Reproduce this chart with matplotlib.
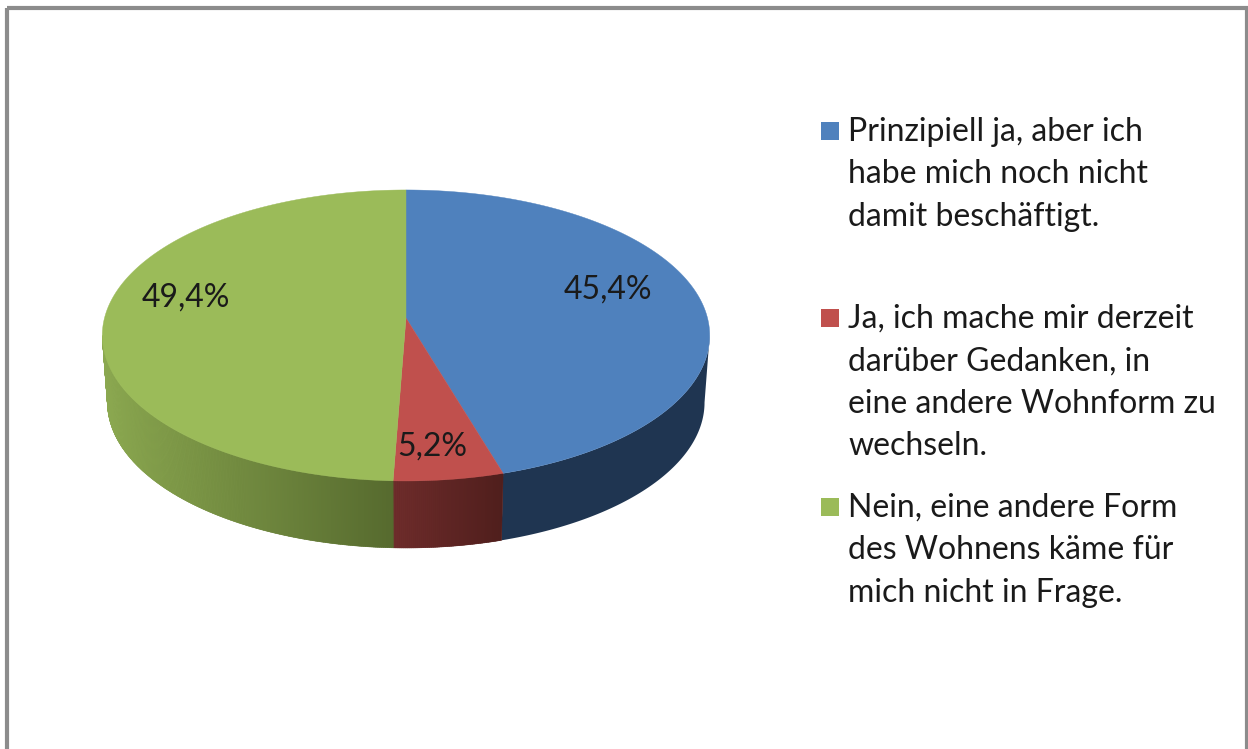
import matplotlib
matplotlib.use("Agg")
import matplotlib.pyplot as plt
import numpy as np
from matplotlib.colors import to_rgb
from matplotlib.patches import Rectangle

plt.rcParams['font.family'] = ['Lato', 'DejaVu Sans']

# Daten
values = [45.4, 5.2, 49.4]
value_labels = ["45,4%", "5,2%", "49,4%"]
legend_labels = [
    "Prinzipiell ja, aber ich\nhabe mich noch nicht\ndamit beschäftigt.",
    "Ja, ich mache mir derzeit\ndarüber Gedanken, in\neine andere Wohnform zu\nwechseln.",
    "Nein, eine andere Form\ndes Wohnens käme für\nmich nicht in Frage.",
]

colors = ["#4F81BD", "#C0504D", "#9BBB59"]
wall_left = ["#1F3551", "#6E2C2B", "#8BA850"]
wall_right = ["#1F3551", "#4F1E1C", "#566A2E"]
label_pos = [(608, 290), (432, 447), (186, 298)]
legend_y = [132, 319, 508]
text_color = "#1A1A1A"

# Geometrie der Torte (Perspektive)
cx, cy = 406, 318
rx, ry = 301.5, 143.4
persp = 0.12
depth = 67
shrink = 0.983


def rim(theta):
    # theta im Uhrzeigersinn von oben, in Grad
    t = np.radians(theta)
    u, v = np.sin(t), -np.cos(t)
    d = 1 - persp * v
    return cx + rx * u / d, cy + ry * v / d


def rim_bottom(theta):
    x, y = rim(theta)
    return cx + (x - cx) * shrink, y + depth


fig = plt.figure(figsize=(12.48, 7.49), dpi=100)
ax = fig.add_axes([0, 0, 1, 1])
ax.set_xlim(0, 1248)
ax.set_ylim(749, 0)
ax.axis("off")

# Rahmen
ax.add_patch(Rectangle((6.5, 7.5), 1240.5, 800, fill=False, ec="#8C8C8C", lw=3))

edges = 360 * np.cumsum([0] + values) / np.sum(values)

# Seitenwand: nur die sichtbare Vorderseite, ab dem breitesten Punkt der Ellipse
side = np.degrees(np.arcsin(persp))
x_min, x_max = rim_bottom(270 - side)[0], rim_bottom(edges[2])[0]
for i in range(3):
    start = max(edges[i], 90 + side)
    stop = min(edges[i + 1], 270 - side)
    steps = np.linspace(start, stop, int(stop - start) * 3 + 2)
    seg_min = x_min if i == 2 else rim(edges[i + 1])[0]
    seg_max = x_max if i == 2 else rim(edges[i])[0]
    c0, c1 = np.array(to_rgb(wall_left[i])), np.array(to_rgb(wall_right[i]))
    # Unterlage, damit zwischen den Streifen keine Nähte sichtbar sind
    tx, ty = rim(steps)
    bx, by = rim_bottom(steps)
    ax.fill(np.r_[tx, bx[::-1]], np.r_[ty, by[::-1]], color=(c0 + c1) / 2, lw=0, zorder=2)
    if i == 0:
        continue
    for a, b in zip(steps[:-1], steps[1:]):
        x0, y0 = rim(a)
        x1, y1 = rim(b)
        x2, y2 = rim_bottom(b)
        x3, y3 = rim_bottom(a)
        f = np.clip(((x2 + x3) / 2 - seg_min) / (seg_max - seg_min), 0, 1)
        c = c0 + (c1 - c0) * f
        ax.fill([x0, x1, x2, x3], [y0, y1, y2, y3], color=c, lw=0.4, zorder=2.5)

# Deckfläche
for i in range(3):
    th = np.linspace(edges[i], edges[i + 1], 200)
    x, y = rim(th)
    ax.fill(np.r_[cx, x], np.r_[cy, y], color=colors[i], lw=0.3, zorder=3)

for lab, (x, y) in zip(value_labels, label_pos):
    ax.text(x, y, lab, fontsize=23, color=text_color, ha="center", va="center", zorder=4)

# Legende
for lab, col, y in zip(legend_labels, colors, legend_y):
    ax.add_patch(Rectangle((821, y - 10), 18, 18, fc=col, ec="none"))
    for j, line in enumerate(lab.split("\n")):
        ax.text(848, y + j * 42.3, line, fontsize=23, color=text_color, ha="left", va="center")

fig.savefig("out.png", dpi=100)
